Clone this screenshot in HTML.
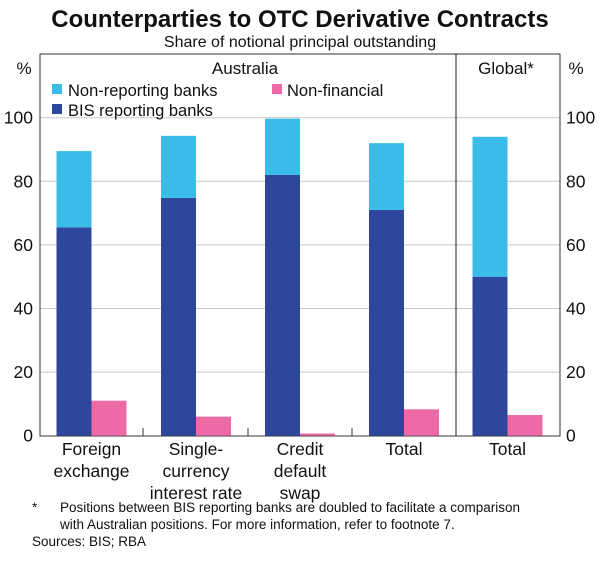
<!DOCTYPE html>
<html><head><meta charset="utf-8"><style>
body{margin:0;background:#fff;font-family:"Liberation Sans",sans-serif;}
svg text{font-family:"Liberation Sans",sans-serif;fill:#111;}
</style></head><body>
<svg width="600" height="557" viewBox="0 0 600 557">
<text x="300" y="27" text-anchor="middle" font-size="24" font-weight="bold">Counterparties to OTC Derivative Contracts</text>
<text x="300" y="47" text-anchor="middle" font-size="16">Share of notional principal outstanding</text>
<g id="grid"></g>
<rect x="40" y="54" width="520" height="382" fill="none" stroke="#333" stroke-width="1"/>
<line x1="456" y1="54" x2="456" y2="436" stroke="#222"/>
<text x="245" y="74" text-anchor="middle" font-size="17">Australia</text>
<text x="506" y="74" text-anchor="middle" font-size="17">Global*</text>
<text x="24" y="74" text-anchor="middle" font-size="17">%</text>
<text x="576" y="74" text-anchor="middle" font-size="17">%</text>
<g>
<rect x="52" y="84" width="10" height="10" fill="#39bce8"/>
<text x="68" y="96" font-size="16.5">Non-reporting banks</text>
<rect x="272" y="84" width="10" height="10" fill="#ee6aa7"/>
<text x="287" y="96" font-size="16.5">Non-financial</text>
<rect x="52" y="104" width="10" height="10" fill="#2c479c"/>
<text x="68" y="116" font-size="16.5">BIS reporting banks</text>
</g>
<g id="bars"></g><g id="ticks"></g><g id="xl"></g>
<text x="32" y="512" font-size="13.5">*</text>
<text x="60" y="512" font-size="13.5">Positions between BIS reporting banks are doubled to facilitate a comparison</text>
<text x="60" y="529" font-size="13.5">with Australian positions. For more information, refer to footnote 7.</text>
<text x="32" y="546" font-size="13.5">Sources: BIS; RBA</text>
</svg>
<script>
const categories=["Foreign exchange","Single-currency interest rate","Credit default swap","Total","Total"];
const bisValues=[65.5,74.8,82,71,50];
const nonReportingValues=[24,19.5,17.7,21,44];
const nonFinancialValues=[11,6,0.7,8.3,6.5];
const tickValues=[0,20,40,60,80,100];
const catLabels=[["Foreign","exchange"],["Single-","currency","interest rate"],["Credit","default","swap"],["Total"],["Total"]];
const NS="http://www.w3.org/2000/svg";
const y=v=>435.7-v*3.18;
const catX=[56.5,161,265,369,472.5];
const bw=35;
function mk(t,a,p){const e=document.createElementNS(NS,t);for(const k in a)e.setAttribute(k,a[k]);p.appendChild(e);return e;}
const grid=document.getElementById('grid'),ticks=document.getElementById('ticks'),bars=document.getElementById('bars'),xl=document.getElementById('xl');
tickValues.forEach(v=>{
 if(v>0){const g=mk('line',{x1:40,x2:560,y1:y(v),y2:y(v),stroke:'#c8c8c8'},grid);
 
 }
 const l=mk('text',{x:33,y:y(v)+6,'text-anchor':'end','font-size':17.5},ticks);l.textContent=v;
 
 
 const r=mk('text',{x:566,y:y(v)+6,'font-size':17.5},ticks);r.textContent=v;
 
 
});
[143,248,352].forEach(x=>{const t=mk('line',{x1:x,x2:x,y1:436,y2:428,stroke:'#333'},ticks);
 
 });
categories.forEach((c,i)=>{
 const x=catX[i];
 const b=mk('rect',{x:x,y:y(bisValues[i]),width:bw,height:bisValues[i]*3.18,fill:'#2c479c'},bars);
 
 
 const n=mk('rect',{x:x,y:y(bisValues[i]+nonReportingValues[i]),width:bw,height:nonReportingValues[i]*3.18,fill:'#39bce8'},bars);
 
 
 const f=mk('rect',{x:x+bw,y:y(nonFinancialValues[i]),width:bw,height:nonFinancialValues[i]*3.18,fill:'#ee6aa7'},bars);
 
 
 catLabels[i].forEach((s,j)=>{const t=mk('text',{x:x+bw,y:455+j*22,'text-anchor':'middle','font-size':17.5},xl);t.textContent=s;
  
  });
});
</script>
</body></html>
